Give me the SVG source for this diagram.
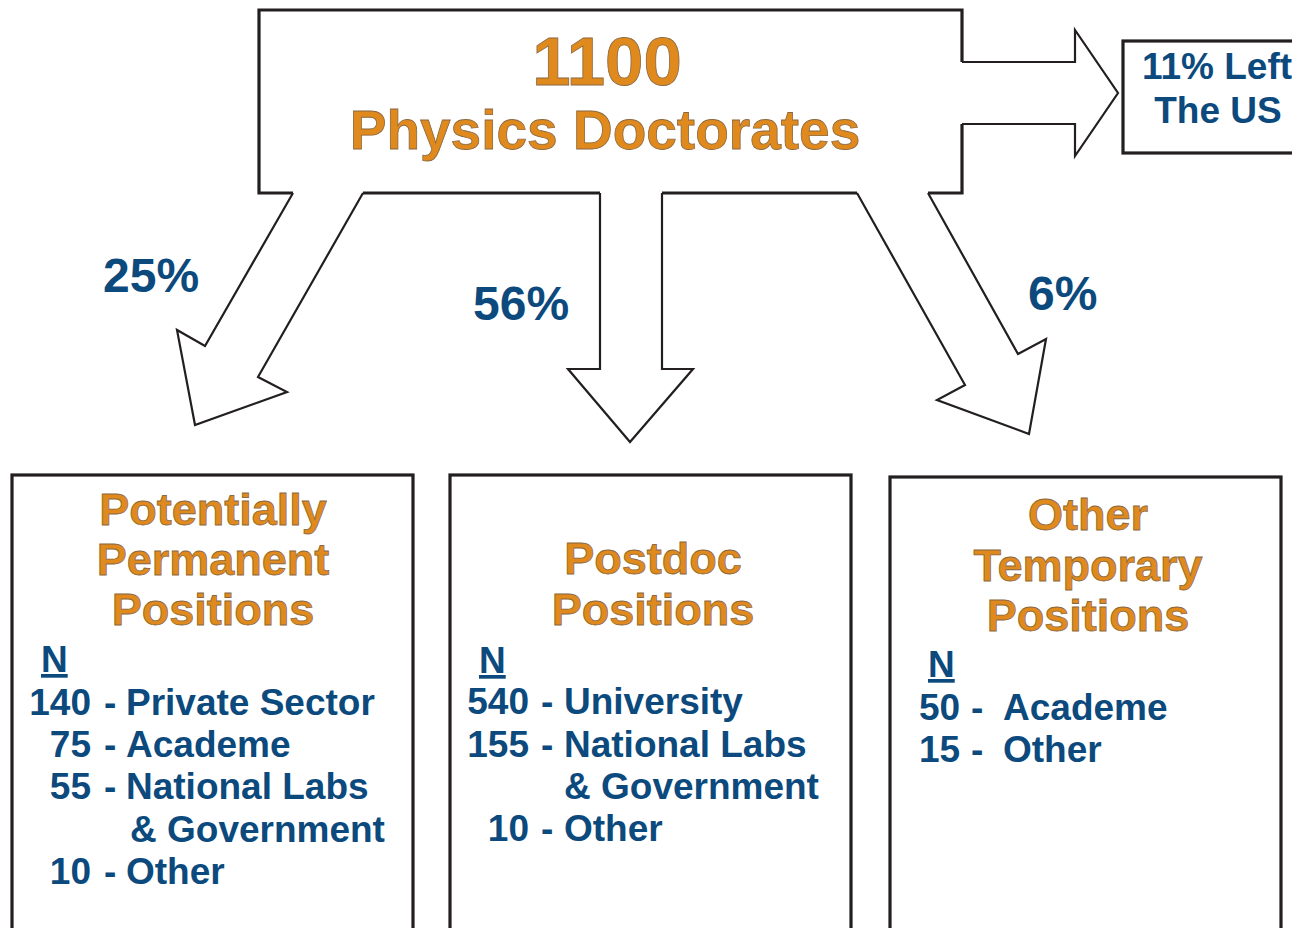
<svg xmlns="http://www.w3.org/2000/svg" width="1307" height="928" viewBox="0 0 1307 928">
  <defs>
    <style>
      .box { fill: none; stroke: #231f20; stroke-width: 3.2; stroke-linejoin: miter; }
      .arrow { fill: #ffffff; stroke: #231f20; stroke-width: 2.2; stroke-linejoin: miter; }
      .title { font-family: "Liberation Sans", Arial, sans-serif; font-weight: bold; fill: #e08a1e; stroke: #8a6840; stroke-width: 0.8; text-anchor: middle; }
      .pct { font-family: "Liberation Sans", Arial, sans-serif; font-weight: bold; fill: #0c4a7e; font-size: 48px; }
      .item { font-family: "Liberation Sans", Arial, sans-serif; font-weight: bold; fill: #0c4a7e; font-size: 37px; }
      .num { text-anchor: end; }
      .n { text-decoration: underline; }
    </style>
    <clipPath id="clipRight">
      <rect x="0" y="0" width="1292" height="928"/>
    </clipPath>
  </defs>
  <rect x="0" y="0" width="1307" height="928" fill="#ffffff"/>

  <g id="connectors">
    <path class="arrow" d="M 293,193 L 205,346 L 177,330 L 195,425 L 287,392 L 258,377 L 363,193"/>
    <path class="arrow" d="M 600,193 L 600,369 L 568,369 L 630,442 L 693,369 L 662,369 L 662,193"/>
    <path class="arrow" d="M 857,193 L 965,385 L 937,400 L 1029,434 L 1046,339 L 1018,354 L 928,193"/>
    <path class="arrow" d="M 962,62 L 1075,62 L 1075,30 L 1118,93 L 1075,156 L 1075,124 L 962,124"/>
    <text class="pct" x="103" y="292">25%</text>
    <text class="pct" x="473" y="320">56%</text>
    <text class="pct" x="1028" y="310">6%</text>
  </g>

  <g id="node-doctorates">
    <path class="box" d="M 293,193 L 259,193 L 259,10 L 962,10 L 962,62 M 962,124 L 962,193 L 928,193 M 363,193 L 600,193 M 662,193 L 857,193"/>
    <text class="title" x="607" y="85" font-size="69">1100</text>
    <text class="title" x="605" y="149" font-size="55">Physics Doctorates</text>
  </g>

  <g id="node-left-us" clip-path="url(#clipRight)">
    <rect class="box" x="1123" y="41" width="190" height="112" stroke-width="2.6"/>
    <text class="item" x="1217" y="79" font-size="40" text-anchor="middle">11% Left</text>
    <text class="item" x="1218" y="123" font-size="40" text-anchor="middle">The US</text>
  </g>

  <g id="node-permanent">
    <rect class="box" x="12" y="475" width="401" height="480"/>
    <text class="title" x="213" y="525" font-size="45">Potentially</text>
    <text class="title" x="213" y="575" font-size="45">Permanent</text>
    <text class="title" x="213" y="625" font-size="45">Positions</text>
    <text class="item n" x="41" y="672">N</text>
    <text class="item num" x="91" y="715">140</text>
    <text class="item" x="104" y="715">-</text>
    <text class="item" x="126" y="715">Private Sector</text>
    <text class="item num" x="91" y="757">75</text>
    <text class="item" x="104" y="757">-</text>
    <text class="item" x="126" y="757">Academe</text>
    <text class="item num" x="91" y="799">55</text>
    <text class="item" x="104" y="799">-</text>
    <text class="item" x="126" y="799">National Labs</text>
    <text class="item" x="130" y="842">&amp; Government</text>
    <text class="item num" x="91" y="884">10</text>
    <text class="item" x="104" y="884">-</text>
    <text class="item" x="126" y="884">Other</text>
  </g>

  <g id="node-postdoc">
    <rect class="box" x="450" y="475" width="401" height="480"/>
    <text class="title" x="653" y="574" font-size="45">Postdoc</text>
    <text class="title" x="653" y="625" font-size="45">Positions</text>
    <text class="item n" x="479" y="673">N</text>
    <text class="item num" x="529" y="714">540</text>
    <text class="item" x="541" y="714">-</text>
    <text class="item" x="564" y="714">University</text>
    <text class="item num" x="529" y="757">155</text>
    <text class="item" x="541" y="757">-</text>
    <text class="item" x="564" y="757">National Labs</text>
    <text class="item" x="564" y="799">&amp; Government</text>
    <text class="item num" x="529" y="841">10</text>
    <text class="item" x="541" y="841">-</text>
    <text class="item" x="564" y="841">Other</text>
  </g>

  <g id="node-temporary">
    <rect class="box" x="890" y="477" width="391" height="480"/>
    <text class="title" x="1088" y="530" font-size="45">Other</text>
    <text class="title" x="1088" y="581" font-size="45">Temporary</text>
    <text class="title" x="1088" y="631" font-size="45">Positions</text>
    <text class="item n" x="928" y="677">N</text>
    <text class="item" x="919" y="720">50</text>
    <text class="item" x="971" y="720">-</text>
    <text class="item" x="1003" y="720">Academe</text>
    <text class="item" x="919" y="762">15</text>
    <text class="item" x="971" y="762">-</text>
    <text class="item" x="1003" y="762">Other</text>
  </g>
</svg>
